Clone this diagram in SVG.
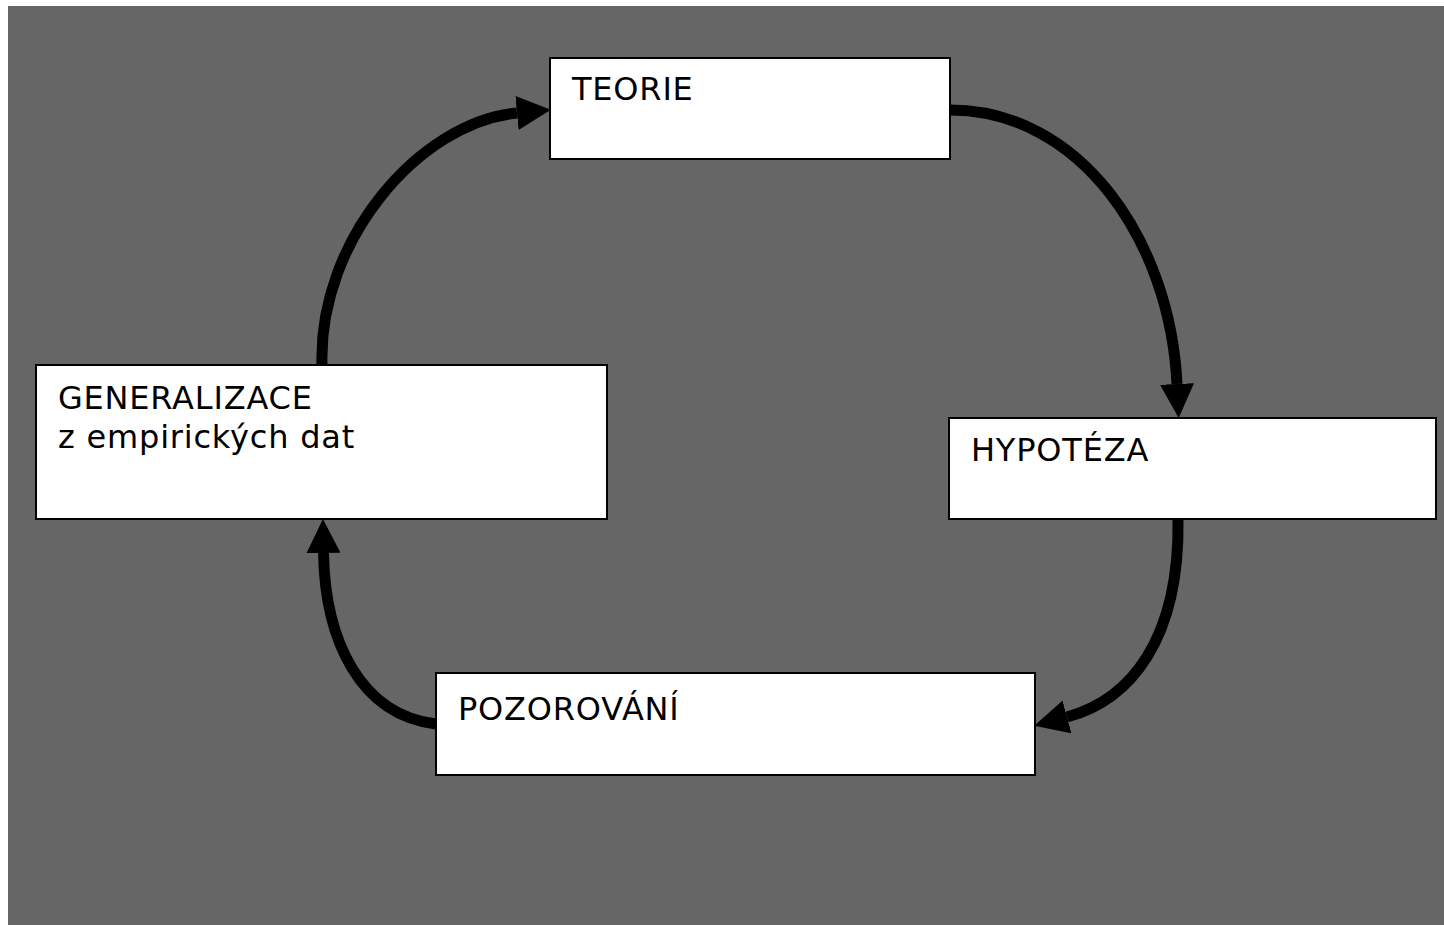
<svg xmlns="http://www.w3.org/2000/svg" width="1444" height="925" viewBox="0 0 1444 925">
<style>
.box{fill:#fff;stroke:#000;stroke-width:2}
.lbl{font-family:"DejaVu Sans",Verdana,sans-serif;font-size:32px;letter-spacing:0.8px;fill:#000}
.arr{fill:none;stroke:#000;stroke-width:11;marker-end:url(#ah)}
</style>
<defs>
<marker id="ah" markerUnits="userSpaceOnUse" markerWidth="34" markerHeight="34" refX="0" refY="16" orient="auto" viewBox="0 0 32 32">
<path d="M0,0 L32,16 L0,32 Z" fill="#000"/>
</marker>
</defs>
<rect x="0" y="0" width="1444" height="925" fill="#fff"/>
<rect x="8" y="6" width="1436" height="919" fill="#666"/>
<g id="connectors">
<path class="arr" d="M322,365 C318,240 420,122 517,113"/>
<path class="arr" d="M950,110 C1080,110 1170,240 1177,384"/>
<path class="arr" d="M1178,519 C1180,640 1130,700 1067,717"/>
<path class="arr" d="M436,724 C360,715 325,640 323.5,553"/>
</g>
<g id="teorie"><rect class="box" x="550" y="58" width="400" height="101"/><text class="lbl" x="572" y="100">TEORIE</text></g>
<g id="hypoteza"><rect class="box" x="949" y="418" width="487" height="101"/><text class="lbl" x="971" y="461">HYPOTÉZA</text></g>
<g id="generalizace"><rect class="box" x="36" y="365" width="571" height="154"/><text class="lbl" x="58" y="409">GENERALIZACE</text><text class="lbl" x="58" y="448">z empirických dat</text></g>
<g id="pozorovani"><rect class="box" x="436" y="673" width="599" height="102"/><text class="lbl" x="458" y="720">POZOROVÁNÍ</text></g>
</svg>
